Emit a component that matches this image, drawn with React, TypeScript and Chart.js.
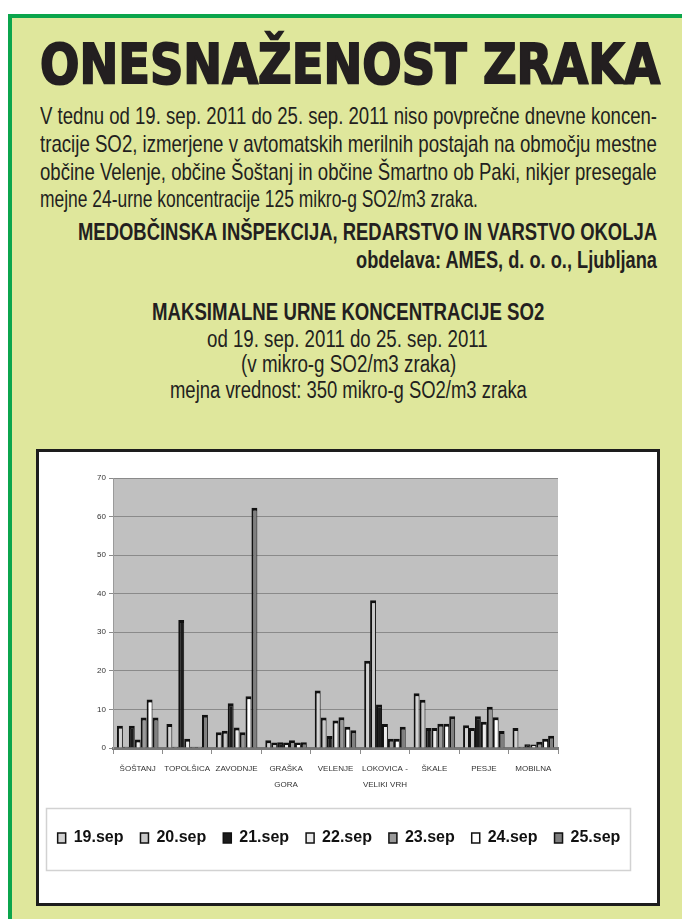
import React, { useEffect, useLayoutEffect, useRef } from 'react';
import { Chart, registerables } from 'chart.js';

Chart.register(...registerables);

// ---------- DATA ----------
const categories: string[][] = [
  ['ŠOŠTANJ'],
  ['TOPOLŠICA'],
  ['ZAVODNJE'],
  ['GRAŠKA', 'GORA'],
  ['VELENJE'],
  ['LOKOVICA -', 'VELIKI VRH'],
  ['ŠKALE'],
  ['PESJE'],
  ['MOBILNA'],
];
const seriesLabels = ['19.sep', '20.sep', '21.sep', '22.sep', '23.sep', '24.sep', '25.sep'];
const sep19 = [5.8, 6.2, 4.1, 2.0, 14.9, 22.6, 14.2, 5.9, 5.2];
const sep20 = [0.3, 0.3, 4.5, 1.4, 7.9, 38.3, 12.5, 5.2, 0.3];
const sep21 = [5.8, 33.2, 11.6, 1.5, 3.1, 11.3, 5.2, 8.2, 1.0];
const sep22 = [2.2, 2.4, 5.3, 1.4, 7.1, 6.2, 5.2, 6.8, 0.9];
const sep23 = [7.9, 0.3, 4.1, 2.0, 8.0, 2.4, 6.3, 10.7, 1.6];
const sep24 = [12.6, 0.3, 13.4, 1.4, 5.5, 2.4, 6.3, 8.0, 2.4];
const sep25 = [7.9, 8.6, 62.3, 1.5, 4.6, 5.5, 8.2, 4.4, 3.2];
const yTickValues = [0, 10, 20, 30, 40, 50, 60, 70];

const seriesValues = [sep19, sep20, sep21, sep22, sep23, sep24, sep25];
const seriesColors = ['#d2d2d2', '#c9c9c9', '#1c1c1c', '#ebebeb', '#9a9a9a', '#ffffff', '#7f7f7f'];

const titleText = 'ONESNAŽENOST ZRAKA';
const bodyLines = [
  'V tednu od 19. sep. 2011 do 25. sep. 2011 niso povprečne dnevne koncen-',
  'tracije SO2, izmerjene v avtomatskih merilnih postajah na območju mestne',
  'občine Velenje, občine Šoštanj in občine Šmartno ob Paki, nikjer presegale',
  'mejne 24-urne koncentracije 125 mikro-g SO2/m3 zraka.',
];
const authorLine = 'MEDOBČINSKA INŠPEKCIJA, REDARSTVO IN VARSTVO OKOLJA';
const sourceLine = 'obdelava: AMES, d. o. o., Ljubljana';
const chartHeading = 'MAKSIMALNE URNE KONCENTRACIJE SO2';
const subLines = [
  'od 19. sep. 2011 do 25. sep. 2011',
  '(v mikro-g SO2/m3 zraka)',
  'mejna vrednost: 350 mikro-g SO2/m3 zraka',
];

// ---------- HELPERS ----------
const NARROW = "'Liberation Sans Narrow', 'Liberation Sans', Arial, sans-serif";
const TITLE_FONT = "'DejaVu Sans', 'Liberation Sans', sans-serif";

type FitProps = {
  text: string;
  left: number;
  width: number;
  baseline: number;
  size: number;
  bold?: boolean;
  family: string;
  stroke?: number;
};

function FitText(p: FitProps) {
  const ref = useRef<HTMLDivElement>(null);
  useLayoutEffect(() => {
    const fit = () => {
      const el = ref.current;
      if (!el) return;
      el.style.transform = 'none';
      const w = el.offsetWidth;
      if (w > 0) el.style.transform = `scaleX(${p.width / w})`;
    };
    fit();
    const fonts = (document as any).fonts;
    if (fonts && fonts.ready) fonts.ready.then(fit);
  }, [p.text, p.width]);
  return (
    <div
      ref={ref}
      style={{
        position: 'absolute',
        left: p.left,
        top: p.baseline - 0.846 * p.size,
        fontSize: p.size,
        lineHeight: `${p.size}px`,
        fontFamily: p.family,
        fontWeight: p.bold ? 700 : 400,
        whiteSpace: 'nowrap',
        transformOrigin: '0 0',
        color: '#231f20',
        WebkitTextStroke: p.stroke ? `${p.stroke}px #231f20` : undefined,
      }}
    >
      {p.text}
    </div>
  );
}

const plotPlugin = {
  id: 'plotDecor',
  beforeDraw(chart: any) {
    const { ctx, chartArea: a } = chart;
    ctx.save();
    ctx.fillStyle = '#c0c0c0';
    ctx.fillRect(a.left, a.top, a.right - a.left, a.bottom - a.top);
    const lg = chart.legend;
    if (lg) {
      ctx.strokeStyle = '#d2d2d2';
      ctx.lineWidth = 1.5;
      ctx.strokeRect(7.5, lg.top - 5 + 0.5, 584, 62);
    }
    ctx.restore();
  },
};

function BarChart() {
  const canvasRef = useRef<HTMLCanvasElement>(null);
  useEffect(() => {
    const canvas = canvasRef.current;
    if (!canvas) return;
    const chart = new Chart(canvas, {
      type: 'bar',
      data: {
        labels: categories as any,
        datasets: seriesLabels.map((label, i) => ({
          label,
          data: seriesValues[i],
          yAxisID: 'y',
          backgroundColor: seriesColors[i],
          borderColor: '#111111',
          borderWidth: { top: 3, left: 2, right: 1, bottom: 0 },
          barPercentage: 1,
          categoryPercentage: 0.84,
        })),
      },
      options: {
        animation: false,
        responsive: false,
        devicePixelRatio: 1,
        layout: { padding: { top: 26, left: 0, right: 0, bottom: 47 } },
        plugins: {
          legend: {
            position: 'bottom',
            labels: {
              boxWidth: 8,
              boxHeight: 10,
              padding: 17,
              color: '#111',
              font: { family: NARROW, size: 16, weight: 'bold' },
            },
          },
          tooltip: { enabled: false },
        },
        scales: {
          x: {
            grid: { offset: true, drawOnChartArea: false, tickLength: 6, color: '#8c8c8c' },
            border: { color: '#777777', width: 3 },
            ticks: {
              color: '#333',
              font: { family: NARROW, size: 8, lineHeight: 2 },
              padding: 7,
              maxRotation: 0,
              autoSkip: false,
            },
            afterFit: (s: any) => {
              s.height = 65;
            },
          },
          y: {
            position: 'left',
            min: 0,
            max: 70,
            afterBuildTicks: (s: any) => {
              s.ticks = yTickValues.map((v) => ({ value: v }));
            },
            grid: { color: '#8a8a8a', tickLength: 4, tickColor: '#8a8a8a' },
            border: { color: '#9a9a9a', width: 1 },
            ticks: { color: '#333', font: { family: NARROW, size: 8 }, padding: 3 },
            afterFit: (s: any) => {
              s.width = 74;
            },
          },
          yR: {
            position: 'right',
            display: true,
            grid: { display: false },
            border: { display: false },
            ticks: { display: false },
            afterFit: (s: any) => {
              s.width = 81;
            },
          },
        },
      } as any,
      plugins: [plotPlugin],
    });
    return () => chart.destroy();
  }, []);
  return (
    <canvas
      ref={canvasRef}
      width={600}
      height={451}
      style={{ position: 'absolute', left: 0, top: 0, width: 600, height: 451 }}
    />
  );
}

export default function App() {
  return (
    <div
      style={{
        position: 'absolute',
        left: 0,
        top: 0,
        width: 682,
        height: 919,
        overflow: 'hidden',
        background: '#ffffff',
      }}
    >
      <div
        style={{
          position: 'absolute',
          left: 8,
          top: 14,
          width: 720,
          height: 940,
          boxSizing: 'border-box',
          border: '4px solid #0ba54c',
          background: '#dfe79c',
        }}
      />
      <FitText text={titleText} left={40} width={620} baseline={84} size={55} bold family={TITLE_FONT} stroke={2} />
      <FitText text={bodyLines[0]} left={40} width={617} baseline={124} size={24} family={NARROW} />
      <FitText text={bodyLines[1]} left={40} width={617} baseline={152} size={24} family={NARROW} />
      <FitText text={bodyLines[2]} left={40} width={617} baseline={180} size={24} family={NARROW} />
      <FitText text={bodyLines[3]} left={40} width={438} baseline={207} size={24} family={NARROW} />
      <FitText text={authorLine} left={78} width={579} baseline={240} size={23} bold family={NARROW} />
      <FitText text={sourceLine} left={356} width={301} baseline={268} size={23} bold family={NARROW} />
      <FitText text={chartHeading} left={152} width={392} baseline={320} size={23} bold family={NARROW} />
      <FitText text={subLines[0]} left={207} width={281} baseline={347} size={23} family={NARROW} />
      <FitText text={subLines[1]} left={241} width={215} baseline={372} size={23} family={NARROW} />
      <FitText text={subLines[2]} left={170} width={357} baseline={398} size={23} family={NARROW} />
      <div
        style={{
          position: 'absolute',
          left: 36,
          top: 449,
          width: 624,
          height: 457,
          boxSizing: 'border-box',
          border: '3px solid #1d1d1d',
          background: '#ffffff',
        }}
      >
        <BarChart />
      </div>
    </div>
  );
}
